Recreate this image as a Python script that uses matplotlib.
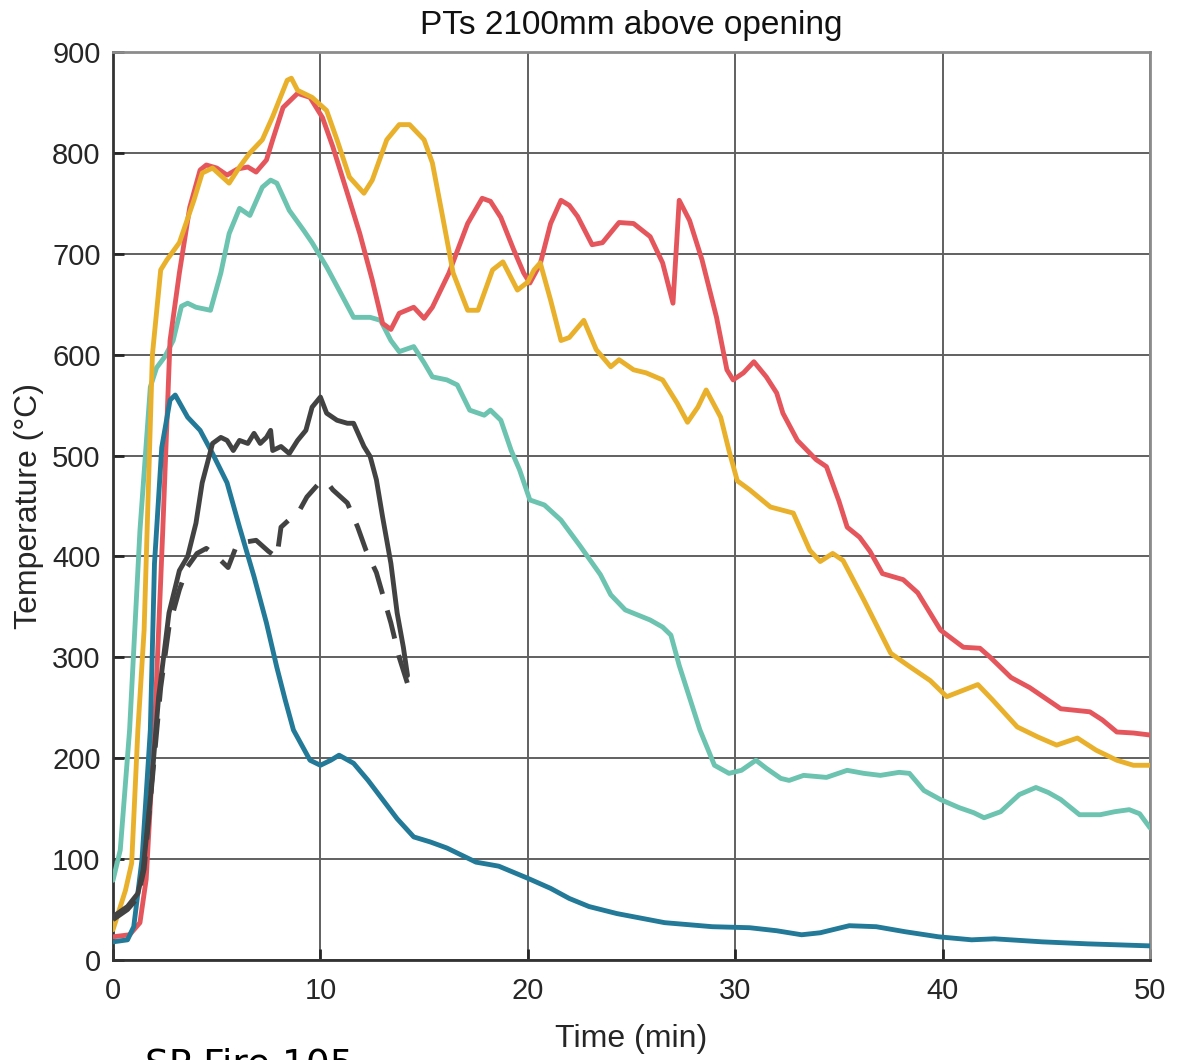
import matplotlib
matplotlib.use("Agg")
import matplotlib.pyplot as plt

# time (min) / temperature (degC) pairs
teal_t = [0, 0.35, 0.8, 1.3, 1.8, 2.1, 2.5, 2.9, 3.3, 3.6, 4.0, 4.7, 5.2, 5.6, 6.1, 6.6, 7.2, 7.6, 7.9,
          8.5, 9.2, 9.6, 10.3, 10.9, 11.6, 12.4, 12.9, 13.4, 13.8, 14.5, 15.0, 15.4, 16.1, 16.6, 17.2,
          17.9, 18.2, 18.7, 19.2, 19.6, 20.1, 20.8, 21.6, 22.5, 23.5, 24.0, 24.7, 25.9, 26.5, 26.9,
          27.3, 27.8, 28.3, 29.0, 29.7, 30.3, 31.0, 31.5, 32.2, 32.6, 33.3, 34.4, 35.4, 36.2, 37.0,
          37.9, 38.4, 39.1, 39.9, 40.8, 41.5, 42.0, 42.8, 43.7, 44.5, 45.1, 45.7, 46.6, 47.6, 48.3,
          49.0, 49.5, 50]
teal_T = [79, 109, 228, 426, 568, 587, 598, 614, 648, 651, 647, 644, 681, 720, 745, 738, 766, 773, 770,
          743, 723, 711, 687, 664, 637, 637, 634, 614, 603, 608, 592, 578, 575, 570, 545,
          540, 545, 535, 505, 486, 456, 451, 436, 411, 382, 362, 347, 337, 330, 322,
          292, 260, 228, 193, 185, 188, 198, 190, 180, 178, 183, 181, 188, 185, 183,
          186, 185, 168, 159, 151, 146, 141, 147, 164, 171, 166, 159, 144, 144, 147,
          149, 145, 131]

red_t = [0, 0.8, 1.3, 1.6, 2.0, 2.4, 2.75, 3.2, 3.7, 4.2, 4.5, 5.0, 5.5, 6.0, 6.5, 6.9, 7.4, 7.7, 8.2,
         8.9, 9.5, 10.1, 10.6, 11.3, 11.9, 12.5, 13.0, 13.4, 13.8, 14.5, 15.0, 15.4, 16.2, 17.1, 17.8,
         18.2, 18.7, 19.3, 19.8, 20.1, 20.6, 21.1, 21.6, 22.0, 22.4, 23.1, 23.6, 24.4, 25.1, 25.9,
         26.5, 27.0, 27.3, 27.8, 28.4, 29.1, 29.6, 29.9, 30.4, 30.9, 31.5, 32.0, 32.3, 33.0, 33.9,
         34.4, 35.0, 35.4, 36.0, 36.5, 37.1, 38.1, 38.8, 39.9, 41.0, 41.8, 42.3, 43.3, 44.2, 45.7,
         47.1, 47.7, 48.4, 49.2, 50]
red_T = [23, 25, 37, 80, 228, 426, 614, 681, 746, 783, 788, 785, 778, 784, 786, 781, 793, 813, 845,
         859, 855, 835, 806, 760, 720, 674, 631, 625, 641, 647, 636, 647, 681, 730, 755,
         752, 736, 705, 681, 671, 690, 730, 753, 748, 737, 709, 711, 731, 730, 717,
         691, 651, 753, 733, 694, 637, 585, 575, 582, 593, 578, 562, 542, 515, 496,
         489, 455, 429, 419, 405, 383, 377, 364, 327, 310, 309, 300, 280, 270, 249,
         246, 238, 226, 225, 223]

yellow_t = [0, 0.6, 0.9, 1.2, 1.5, 1.9, 2.3, 2.6, 3.2, 3.9, 4.3, 4.8, 5.6, 6.1, 6.6, 7.2, 7.7, 8.4, 8.6,
            8.9, 9.6, 10.3, 10.8, 11.4, 12.1, 12.5, 13.2, 13.8, 14.3, 15.0, 15.4, 15.9, 16.4, 17.1,
            17.6, 18.3, 18.8, 19.5, 20.0, 20.3, 20.6, 21.1, 21.6, 22.0, 22.7, 23.3, 24.0, 24.4, 25.1,
            25.7, 26.5, 27.2, 27.7, 28.2, 28.6, 29.3, 29.7, 30.1, 30.7, 31.7, 32.8, 33.6, 34.1, 34.7,
            35.2, 36.2, 37.5, 38.4, 39.4, 40.2, 40.7, 41.7, 42.4, 43.6, 44.6, 45.5, 46.5, 47.4, 48.4,
            49.2, 50]
yellow_T = [30, 69, 96, 228, 327, 600, 684, 694, 711, 753, 780, 785, 770, 786, 800, 813, 836, 872, 874,
            862, 855, 842, 813, 776, 760, 773, 813, 828, 828, 813, 790, 736, 681, 644,
            644, 684, 692, 664, 672, 684, 691, 654, 614, 617, 634, 605, 588, 595, 585,
            582, 575, 552, 533, 548, 565, 538, 505, 475, 466, 449, 443, 406, 395, 403,
            396, 357, 304, 291, 277, 261, 265, 273, 258, 231, 221, 213, 220, 208, 198,
            193, 193]

blue_t = [0, 0.7, 1.0, 1.4, 1.8, 2.0, 2.35, 2.75, 3.0, 3.6, 4.2, 4.8, 5.5, 6.1, 6.8, 7.4, 7.9, 8.3, 8.7,
          9.5, 10.0, 10.5, 10.9, 11.6, 12.3, 13.0, 13.7, 14.5, 15.3, 16.1, 17.5, 18.6, 20.0, 21.1,
          22.0, 22.95, 24.3, 26.6, 28.9, 30.7, 32.0, 33.2, 34.1, 35.5, 36.8, 38.2, 39.8, 41.4, 42.5,
          44.8, 47.0, 50]
blue_T = [18, 20, 33, 100, 228, 393, 508, 555, 560, 538, 525, 502, 473, 429, 380, 334, 290, 258, 228,
          198, 193, 198, 203, 195, 178, 159, 140, 122, 117, 111, 97, 93, 81, 71,
          61, 53, 46, 37, 33, 32, 29, 25, 27, 34, 33, 28, 23, 20, 21,
          18, 16, 14]

dark_t = [0, 0.7, 1.2, 1.45, 1.8, 2.2, 2.3, 2.7, 3.2, 3.6, 4.0, 4.3, 4.8, 5.2, 5.5, 5.8, 6.1, 6.5, 6.8,
          7.1, 7.4, 7.6, 7.7, 8.1, 8.5, 8.9, 9.3, 9.6, 10.0, 10.3, 10.8, 11.3, 11.6, 12.1, 12.4, 12.7,
          13.0, 13.4, 13.7, 14.0, 14.2]
dark_T = [43, 53, 66, 89, 160, 261, 277, 344, 386, 400, 433, 473, 512, 518, 515, 505, 515, 512, 522,
          512, 518, 525, 505, 509, 502, 515, 525, 548, 558, 542, 535, 532, 532, 509, 499, 476,
          439, 393, 344, 310, 282]

dash_t = [0, 0.7, 1.2, 1.5, 1.9, 2.3, 2.7, 3.2, 3.6, 4.05, 4.5, 5.0, 5.55, 6.0, 6.9, 7.5, 7.9, 8.1, 9.0,
          9.35, 10.0, 10.3, 10.6, 11.3, 11.8, 12.2, 12.7, 13.4, 13.8, 14.4]
dash_T = [40, 50, 62, 90, 180, 270, 330, 367, 390, 403, 408, 400, 389, 413, 416, 405, 399, 429, 446,
          459, 474, 474, 466, 453, 429, 406, 384, 334, 300, 261]

x_ticks = [0, 10, 20, 30, 40, 50]
y_ticks = [0, 100, 200, 300, 400, 500, 600, 700, 800, 900]

plt.rcParams['font.family'] = ['Liberation Sans', 'DejaVu Sans']

fig = plt.figure(figsize=(11.78, 10.6), dpi=100)
ax = fig.add_axes([113/1178, 100/1060, 1037/1178, 908/1060])

lw = 3.5
style = dict(lw=lw, solid_joinstyle='round', solid_capstyle='round')
ax.plot(teal_t, teal_T, color='#6CC3B0', zorder=3, **style)
ax.plot(red_t, red_T, color='#E5565C', zorder=3, **style)
ax.plot(yellow_t, yellow_T, color='#E9B02B', zorder=3, **style)
ax.plot(blue_t, blue_T, color='#227A98', zorder=3, **style)
ax.plot(dark_t, dark_T, color='#424242', zorder=4, **style)
ax.plot(dash_t, dash_T, color='#424242', lw=lw, ls=(0, (6, 3.5)), zorder=4)

ax.set_xlim(0, 50)
ax.set_ylim(0, 900)
ax.set_xticks(x_ticks)
ax.set_yticks(y_ticks)
ax.grid(True, color='#606060', lw=1.4)
ax.set_axisbelow(True)
ax.tick_params(direction='in', length=8, width=2, labelsize=21, colors='#262626', pad=9)
ax.tick_params(axis='x', pad=12)
for s in ['left', 'bottom']:
    ax.spines[s].set_color('#333333')
    ax.spines[s].set_linewidth(2)
for s in ['top', 'right']:
    ax.spines[s].set_color('#8c8c8c')
    ax.spines[s].set_linewidth(2)

ax.set_xlabel('Time (min)', fontsize=23, color='#262626', labelpad=14)
ax.set_ylabel('Temperature (°C)', fontsize=23, color='#262626', labelpad=6)
ax.set_title('PTs 2100mm above opening', fontsize=24, color='#111111', pad=13)

# caption that sits half off the bottom edge, as in the source image
fig.text(145/1178, 12/1060, 'SP Fire 105', fontsize=27, family='DejaVu Sans',
         color='black', va='top', ha='left')

fig.savefig('out.png', dpi=100, facecolor='white')
